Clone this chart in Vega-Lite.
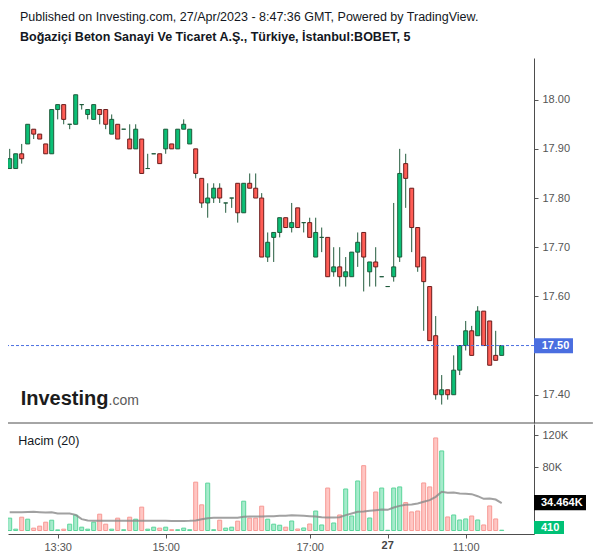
{
  "$schema": "https://vega.github.io/schema/vega-lite/v6.json",
  "background": "white",
  "padding": {"left": 5, "top": 11, "right": 0, "bottom": 0},
  "title": {
    "text": "Published on Investing.com, 27/Apr/2023 - 8:47:36 GMT, Powered by TradingView.",
    "subtitle": "Boğaziçi Beton Sanayi Ve Ticaret A.Ş., Türkiye, İstanbul:BOBET, 5",
    "anchor": "start", "frame": "group", "dx": 12,
    "font": "Liberation Sans", "fontSize": 12.5, "fontWeight": "normal", "color": "#131722",
    "subtitleFont": "Liberation Sans", "subtitleFontSize": 12.5, "subtitleFontWeight": "bold", "subtitleColor": "#131722",
    "subtitlePadding": 7, "offset": 15
  },
  "datasets": {
    "k": [
      {"i":0,"o":17.86,"h":17.90,"l":17.86,"c":17.88,"v":15.6,"ma":23.1},
      {"i":1,"o":17.86,"h":17.89,"l":17.86,"c":17.89,"v":1.7,"ma":23.1},
      {"i":2,"o":17.89,"h":17.91,"l":17.87,"c":17.88,"v":16.8,"ma":23.1},
      {"i":3,"o":17.91,"h":17.95,"l":17.91,"c":17.95,"v":14.3,"ma":23.3},
      {"i":4,"o":17.94,"h":17.94,"l":17.92,"c":17.93,"v":3.0,"ma":23.6},
      {"i":5,"o":17.93,"h":17.93,"l":17.92,"c":17.92,"v":5.5,"ma":23.2},
      {"i":6,"o":17.91,"h":17.91,"l":17.89,"c":17.89,"v":10.5,"ma":22.7},
      {"i":7,"o":17.89,"h":17.98,"l":17.89,"c":17.98,"v":13.0,"ma":23.1},
      {"i":8,"o":17.98,"h":17.99,"l":17.96,"c":17.99,"v":0.8,"ma":21.5},
      {"i":9,"o":17.99,"h":17.99,"l":17.95,"c":17.96,"v":1.7,"ma":21.5},
      {"i":10,"o":17.95,"h":17.95,"l":17.94,"c":17.95,"v":8.0,"ma":21.5},
      {"i":11,"o":17.95,"h":18.01,"l":17.95,"c":18.01,"v":19.4,"ma":19.8},
      {"i":12,"o":17.99,"h":17.99,"l":17.98,"c":17.99,"v":4.2,"ma":14.3},
      {"i":13,"o":17.97,"h":17.98,"l":17.96,"c":17.98,"v":1.7,"ma":12.6},
      {"i":14,"o":17.96,"h":17.99,"l":17.96,"c":17.99,"v":10.5,"ma":12.2},
      {"i":15,"o":17.98,"h":17.98,"l":17.95,"c":17.97,"v":20.6,"ma":12.2},
      {"i":16,"o":17.98,"h":17.98,"l":17.94,"c":17.95,"v":8.0,"ma":12.2},
      {"i":17,"o":17.93,"h":17.97,"l":17.93,"c":17.96,"v":1.7,"ma":12.2},
      {"i":18,"o":17.95,"h":17.95,"l":17.92,"c":17.92,"v":15.6,"ma":12.2},
      {"i":19,"o":17.94,"h":17.94,"l":17.94,"c":17.94,"v":1.0,"ma":12.2},
      {"i":20,"o":17.92,"h":17.95,"l":17.90,"c":17.90,"v":16.8,"ma":12.2},
      {"i":21,"o":17.90,"h":17.95,"l":17.90,"c":17.94,"v":14.3,"ma":12.2},
      {"i":22,"o":17.92,"h":17.92,"l":17.85,"c":17.85,"v":29.5,"ma":12.2},
      {"i":23,"o":17.86,"h":17.89,"l":17.86,"c":17.86,"v":1.7,"ma":12.2},
      {"i":24,"o":17.89,"h":17.89,"l":17.89,"c":17.89,"v":4.2,"ma":12.2},
      {"i":25,"o":17.89,"h":17.89,"l":17.87,"c":17.87,"v":3.0,"ma":12.2},
      {"i":26,"o":17.90,"h":17.94,"l":17.89,"c":17.94,"v":4.2,"ma":12.2},
      {"i":27,"o":17.91,"h":17.91,"l":17.90,"c":17.90,"v":1.0,"ma":12.0},
      {"i":28,"o":17.90,"h":17.94,"l":17.90,"c":17.94,"v":1.0,"ma":12.0},
      {"i":29,"o":17.94,"h":17.96,"l":17.94,"c":17.95,"v":3.0,"ma":12.0},
      {"i":30,"o":17.91,"h":17.94,"l":17.91,"c":17.94,"v":1.0,"ma":12.2},
      {"i":31,"o":17.90,"h":17.90,"l":17.84,"c":17.85,"v":61.0,"ma":12.6},
      {"i":32,"o":17.84,"h":17.84,"l":17.78,"c":17.79,"v":32.4,"ma":14.3},
      {"i":33,"o":17.79,"h":17.83,"l":17.76,"c":17.80,"v":59.8,"ma":15.6},
      {"i":34,"o":17.80,"h":17.83,"l":17.79,"c":17.82,"v":1.0,"ma":16.0},
      {"i":35,"o":17.82,"h":17.83,"l":17.79,"c":17.80,"v":13.0,"ma":16.0},
      {"i":36,"o":17.79,"h":17.79,"l":17.77,"c":17.79,"v":3.0,"ma":16.0},
      {"i":37,"o":17.80,"h":17.80,"l":17.78,"c":17.80,"v":4.2,"ma":16.0},
      {"i":38,"o":17.83,"h":17.83,"l":17.75,"c":17.77,"v":11.8,"ma":16.0},
      {"i":39,"o":17.77,"h":17.83,"l":17.77,"c":17.83,"v":37.0,"ma":17.3},
      {"i":40,"o":17.83,"h":17.85,"l":17.82,"c":17.82,"v":15.6,"ma":17.7},
      {"i":41,"o":17.82,"h":17.85,"l":17.80,"c":17.80,"v":15.6,"ma":17.7},
      {"i":42,"o":17.80,"h":17.81,"l":17.68,"c":17.68,"v":30.7,"ma":17.7},
      {"i":43,"o":17.68,"h":17.73,"l":17.67,"c":17.71,"v":14.3,"ma":18.1},
      {"i":44,"o":17.72,"h":17.73,"l":17.67,"c":17.73,"v":8.0,"ma":18.1},
      {"i":45,"o":17.73,"h":17.76,"l":17.72,"c":17.76,"v":6.7,"ma":18.5},
      {"i":46,"o":17.76,"h":17.76,"l":17.74,"c":17.74,"v":4.2,"ma":18.5},
      {"i":47,"o":17.74,"h":17.79,"l":17.73,"c":17.75,"v":12.0,"ma":19.4},
      {"i":48,"o":17.78,"h":17.78,"l":17.74,"c":17.74,"v":1.9,"ma":18.9},
      {"i":49,"o":17.75,"h":17.75,"l":17.73,"c":17.75,"v":3.2,"ma":18.5},
      {"i":50,"o":17.75,"h":17.76,"l":17.72,"c":17.72,"v":8.2,"ma":18.1},
      {"i":51,"o":17.68,"h":17.76,"l":17.68,"c":17.73,"v":24.6,"ma":17.7},
      {"i":52,"o":17.72,"h":17.74,"l":17.69,"c":17.72,"v":7.0,"ma":16.8},
      {"i":53,"o":17.72,"h":17.72,"l":17.64,"c":17.64,"v":53.6,"ma":16.4},
      {"i":54,"o":17.65,"h":17.70,"l":17.64,"c":17.66,"v":9.5,"ma":16.4},
      {"i":55,"o":17.66,"h":17.70,"l":17.62,"c":17.64,"v":19.6,"ma":16.8},
      {"i":56,"o":17.64,"h":17.68,"l":17.62,"c":17.65,"v":52.4,"ma":19.4},
      {"i":57,"o":17.64,"h":17.69,"l":17.64,"c":17.69,"v":18.3,"ma":21.5},
      {"i":58,"o":17.69,"h":17.73,"l":17.66,"c":17.71,"v":62.5,"ma":23.6},
      {"i":59,"o":17.73,"h":17.73,"l":17.61,"c":17.68,"v":81.8,"ma":24.0},
      {"i":60,"o":17.65,"h":17.67,"l":17.62,"c":17.67,"v":15.8,"ma":24.8},
      {"i":61,"o":17.67,"h":17.70,"l":17.62,"c":17.66,"v":48.6,"ma":25.7},
      {"i":62,"o":17.64,"h":17.64,"l":17.64,"c":17.64,"v":53.6,"ma":26.5},
      {"i":63,"o":17.62,"h":17.62,"l":17.62,"c":17.62,"v":0.3,"ma":26.1},
      {"i":64,"o":17.64,"h":17.79,"l":17.63,"c":17.66,"v":53.6,"ma":29.0},
      {"i":65,"o":17.68,"h":17.90,"l":17.67,"c":17.85,"v":55.0,"ma":31.1},
      {"i":66,"o":17.87,"h":17.89,"l":17.78,"c":17.84,"v":35.2,"ma":32.4},
      {"i":67,"o":17.82,"h":17.82,"l":17.69,"c":17.74,"v":23.4,"ma":32.8},
      {"i":68,"o":17.74,"h":17.74,"l":17.65,"c":17.66,"v":24.6,"ma":34.1},
      {"i":69,"o":17.68,"h":17.68,"l":17.53,"c":17.63,"v":60.0,"ma":36.2},
      {"i":70,"o":17.62,"h":17.62,"l":17.51,"c":17.51,"v":55.0,"ma":38.3},
      {"i":71,"o":17.52,"h":17.56,"l":17.39,"c":17.40,"v":116.8,"ma":42.5},
      {"i":72,"o":17.40,"h":17.44,"l":17.38,"c":17.41,"v":100.4,"ma":48.8},
      {"i":73,"o":17.41,"h":17.41,"l":17.39,"c":17.40,"v":17.1,"ma":47.6},
      {"i":74,"o":17.40,"h":17.48,"l":17.40,"c":17.45,"v":19.6,"ma":48.0},
      {"i":75,"o":17.45,"h":17.50,"l":17.44,"c":17.50,"v":13.3,"ma":46.7},
      {"i":76,"o":17.50,"h":17.55,"l":17.49,"c":17.53,"v":14.6,"ma":46.3},
      {"i":77,"o":17.53,"h":17.54,"l":17.48,"c":17.48,"v":18.3,"ma":45.9},
      {"i":78,"o":17.52,"h":17.58,"l":17.52,"c":17.57,"v":13.3,"ma":43.3},
      {"i":79,"o":17.57,"h":17.57,"l":17.50,"c":17.50,"v":7.0,"ma":40.0},
      {"i":80,"o":17.55,"h":17.55,"l":17.46,"c":17.46,"v":31.0,"ma":40.4},
      {"i":81,"o":17.48,"h":17.53,"l":17.47,"c":17.47,"v":14.6,"ma":39.1},
      {"i":82,"o":17.48,"h":17.50,"l":17.48,"c":17.50,"v":0.41,"ma":34.464}
    ]
  },
  "data": {"name": "k"},
  "spacing": 0,
  "vconcat": [
    {
      "width": 526,
      "height": 365,
      "layer": [
        {
          "mark": {"type": "rule", "color": "#245c3e", "strokeWidth": 1, "clip": true},
          "encoding": {
            "x": {"field": "i", "type": "quantitative", "scale": {"domain": [-0.283, 87.383], "nice": false, "zero": false, "padding": 0}, "axis": null},
            "y": {"field": "l", "type": "quantitative", "scale": {"domain": [17.3425, 18.0848], "nice": false, "zero": false, "padding": 0},
                  "axis": {"orient": "right", "values": [17.4, 17.6, 17.7, 17.8, 17.9, 18.0], "format": ".2f", "title": null, "grid": false,
                           "labelColor": "#555555", "labelFontSize": 11, "labelFont": "Liberation Sans", "tickColor": "#555555", "tickSize": 4,
                           "domainColor": "#4d4d4d", "labelPadding": 4}},
            "y2": {"field": "h"}
          }
        },
        {
          "mark": {"type": "bar", "size": 4, "strokeWidth": 1, "clip": true},
          "encoding": {
            "x": {"field": "i", "type": "quantitative"},
            "y": {"field": "o", "type": "quantitative"},
            "y2": {"field": "c"},
            "fill": {"condition": {"test": "datum.c >= datum.o", "value": "#0bbf76"}, "value": "#ff5d55"},
            "stroke": {"condition": {"test": "datum.c >= datum.o", "value": "#1e5a3b"}, "value": "#6b1c1c"}
          }
        },
        {
          "data": {"values": [{"p": 17.5}]},
          "mark": {"type": "rule", "color": "#4a6ee0", "strokeDash": [3, 2], "strokeWidth": 1},
          "encoding": {"y": {"field": "p", "type": "quantitative"}}
        },
        {
          "data": {"values": [{"t": "Investing", "a": 1.83, "b": 17.379}]},
          "mark": {"type": "text", "font": "Liberation Sans", "fontWeight": "bold", "fontSize": 20, "color": "#1c1c1c", "align": "left", "baseline": "alphabetic"},
          "encoding": {"x": {"field": "a", "type": "quantitative"}, "y": {"field": "b", "type": "quantitative"}, "text": {"field": "t"}}
        },
        {
          "data": {"values": [{"t": ".com", "a": 16.47, "b": 17.379}]},
          "mark": {"type": "text", "font": "Liberation Sans", "fontSize": 14, "color": "#5a5a5a", "align": "left", "baseline": "alphabetic"},
          "encoding": {"x": {"field": "a", "type": "quantitative"}, "y": {"field": "b", "type": "quantitative"}, "text": {"field": "t"}}
        },
        {
          "data": {"values": [{"a": -0.283, "a2": 97.2, "b": 17.3425}]},
          "mark": {"type": "rule", "color": "#4d4d4d", "strokeWidth": 1, "clip": false},
          "encoding": {"x": {"field": "a", "type": "quantitative"}, "x2": {"field": "a2"}, "y": {"field": "b", "type": "quantitative"}}
        },
        {
          "data": {"values": [{"a": 87.383, "a2": 93.88, "b": 17.5147, "b2": 17.4842}]},
          "mark": {"type": "rect", "color": "#4a6ee0", "clip": false},
          "encoding": {"x": {"field": "a", "type": "quantitative"}, "x2": {"field": "a2"}, "y": {"field": "b", "type": "quantitative"}, "y2": {"field": "b2"}}
        },
        {
          "data": {"values": [{"t": "17.50", "a": 88.67, "b": 17.4995}]},
          "mark": {"type": "text", "font": "Liberation Sans", "fontWeight": "bold", "fontSize": 11, "color": "white", "align": "left", "baseline": "middle", "clip": false},
          "encoding": {"x": {"field": "a", "type": "quantitative"}, "y": {"field": "b", "type": "quantitative"}, "text": {"field": "t"}}
        }
      ]
    },
    {
      "width": 526,
      "height": 110,
      "layer": [
        {
          "mark": {"type": "bar", "size": 4, "strokeWidth": 1, "clip": true},
          "encoding": {
            "x": {"field": "i", "type": "quantitative", "scale": {"domain": [-0.283, 87.383], "nice": false, "zero": false, "padding": 0},
                  "axis": {"orient": "bottom", "values": [8, 26, 50, 63, 76], "title": null, "grid": false,
                           "labelExpr": "datum.value == 8 ? '13:30' : datum.value == 26 ? '15:00' : datum.value == 50 ? '17:00' : datum.value == 63 ? '' : '11:00'",
                           "labelColor": "#555555", "labelFontSize": 11, "labelFont": "Liberation Sans", "tickColor": "#555555", "tickSize": 4,
                           "domainColor": "#4d4d4d", "labelPadding": 3}},
            "y": {"field": "v", "type": "quantitative", "scale": {"domain": [-4.4, 134.4], "nice": false, "zero": false, "padding": 0},
                  "axis": {"orient": "right", "values": [80, 120], "labelExpr": "datum.value + 'K'", "title": null, "grid": false,
                           "labelColor": "#555555", "labelFontSize": 11, "labelFont": "Liberation Sans", "tickColor": "#555555", "tickSize": 4,
                           "domainColor": "#4d4d4d", "labelPadding": 4}},
            "y2": {"datum": 0},
            "fill": {"condition": {"test": "datum.c >= datum.o", "value": "#a6ebcc"}, "value": "#ffc6c3"},
            "stroke": {"condition": {"test": "datum.c >= datum.o", "value": "#5cd59b"}, "value": "#f79994"}
          }
        },
        {
          "mark": {"type": "line", "color": "#8a8a8a", "strokeWidth": 2, "opacity": 0.8},
          "encoding": {"x": {"field": "i", "type": "quantitative"}, "y": {"field": "ma", "type": "quantitative"}}
        },
        {
          "data": {"values": [{"t": "Hacim (20)", "a": 1.43, "b": 108}]},
          "mark": {"type": "text", "font": "Liberation Sans", "fontSize": 12.5, "color": "#131722", "align": "left", "baseline": "alphabetic"},
          "encoding": {"x": {"field": "a", "type": "quantitative"}, "y": {"field": "b", "type": "quantitative"}, "text": {"field": "t"}}
        },
        {
          "data": {"values": [{"t": "27", "a": 63, "b": -20}]},
          "mark": {"type": "text", "font": "Liberation Sans", "fontWeight": "bold", "fontSize": 11, "color": "#444444", "align": "center", "baseline": "middle", "clip": false},
          "encoding": {"x": {"field": "a", "type": "quantitative"}, "y": {"field": "b", "type": "quantitative"}, "text": {"field": "t"}}
        },
        {
          "data": {"values": [{"a": 87.383, "a2": 96.05, "b": 44.8, "b2": 25.5, "f": "#000000"}, {"a": 87.383, "a2": 92.38, "b": 12.0, "b2": -4.4, "f": "#00c176"}]},
          "mark": {"type": "rect", "clip": false},
          "encoding": {"x": {"field": "a", "type": "quantitative"}, "x2": {"field": "a2"}, "y": {"field": "b", "type": "quantitative"}, "y2": {"field": "b2"}, "fill": {"field": "f", "type": "nominal", "scale": null}}
        },
        {
          "data": {"values": [{"t": "34.464K", "a": 88.55, "b": 35.1}, {"t": "410", "a": 88.55, "b": 3.5}]},
          "mark": {"type": "text", "font": "Liberation Sans", "fontWeight": "bold", "fontSize": 11, "color": "white", "align": "left", "baseline": "middle", "clip": false},
          "encoding": {"x": {"field": "a", "type": "quantitative"}, "y": {"field": "b", "type": "quantitative"}, "text": {"field": "t"}}
        }
      ]
    }
  ],
  "config": {
    "view": {"stroke": null},
    "font": "Liberation Sans"
  }
}
